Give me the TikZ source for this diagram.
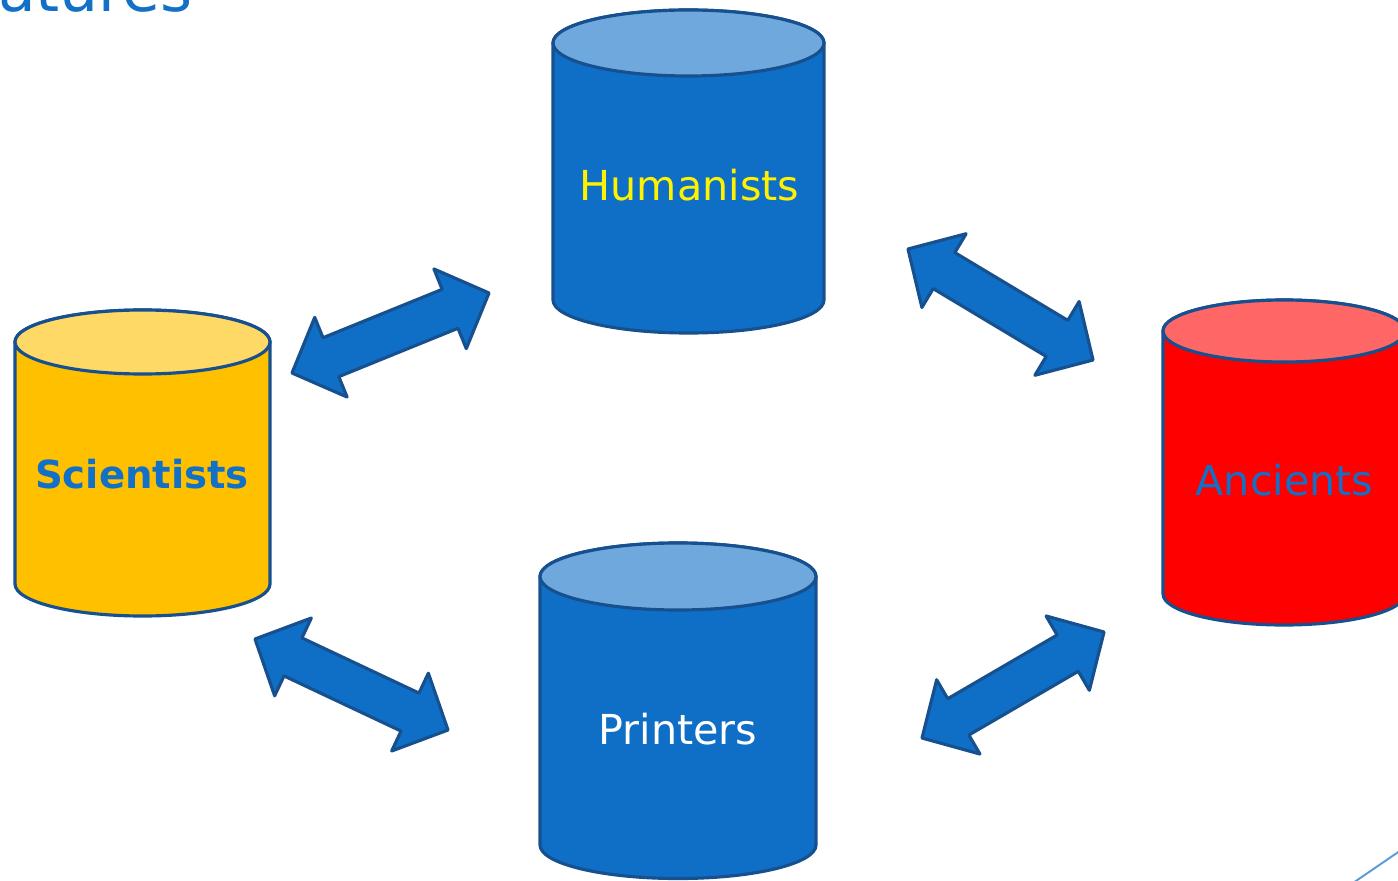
\documentclass[tikz,border=0pt]{standalone}
\usepackage{fontspec}
\setmainfont{DejaVu Sans}
\usepackage{xcolor}
\usepackage{tikz}
\usetikzlibrary{calc}
\usetikzlibrary{positioning}

\definecolor{drumblue}{HTML}{0F6FC6}
\definecolor{drumtop}{HTML}{6FA8DC}
\definecolor{edgeblue}{HTML}{17508F}
\definecolor{gold}{HTML}{FFC000}
\definecolor{goldtop}{HTML}{FFD966}
\definecolor{redtop}{HTML}{FF6666}
\definecolor{textblue}{HTML}{1270C6}
\definecolor{lineblue}{HTML}{5B9BD5}

\newcommand{\drum}[7]{%
    \filldraw [drum, fill=#6] (#1-#4, #2) -- (#1-#4, #3)
    arc [start angle=180, end angle=360, x radius=#4, y radius=#5]
    -- (#1+#4, #2) arc [start angle=0, end angle=180, x radius=#4, y radius=#5];
    \filldraw [drum, fill=#7] (#1, #2) ellipse [x radius=#4, y radius=#5];
}

\newcommand{\linkarrow}[2]{%
    \coordinate (#1-#2-a) at ($(#1)!0.84cm!(#2)$);
    \coordinate (#1-#2-b) at ($(#2)!0.84cm!(#1)$);
    \filldraw [link] (#1)
    -- ($(#1-#2-a)!0.86cm!90:(#2)$) -- ($(#1-#2-a)!0.42cm!90:(#2)$)
    -- ($(#1-#2-b)!0.42cm!-90:(#1)$) -- ($(#1-#2-b)!0.86cm!-90:(#1)$)
    -- (#2)
    -- ($(#1-#2-b)!0.86cm!90:(#1)$) -- ($(#1-#2-b)!0.42cm!90:(#1)$)
    -- ($(#1-#2-a)!0.42cm!-90:(#2)$) -- ($(#1-#2-a)!0.86cm!-90:(#2)$)
    -- cycle;
}

\begin{document}
\begin{tikzpicture}[x=0.02cm, y=0.02cm,
    drum/.style={draw=edgeblue, line width=1.8pt, line join=round},
    link/.style={draw=edgeblue, fill=drumblue, line width=1.8pt, line join=round},
    tag/.style={anchor=base, inner sep=0pt, font=\fontsize{23.5pt}{28pt}\selectfont}]

    \useasboundingbox (0, 0) rectangle (1398, 880);
    \clip (0, 0) rectangle (1398, 880);

    \node [anchor=base east, inner sep=0pt, text=textblue,
    font=\fontsize{35pt}{40pt}\selectfont] (title) at (193, 868) {atures};

    \drum{688.5}{837}{580}{135.5}{33}{drumblue}{drumtop}
    \drum{142.5}{538}{296}{127.5}{32}{gold}{goldtop}
    \drum{678}{303.5}{35}{138}{33.5}{drumblue}{drumtop}
    \drum{1284}{549}{286}{121}{31}{red}{redtop}

    \node [tag, text=yellow] (humanists) at (689.5, 679) {Humanists};
    \node [tag, text=textblue, font=\fontsize{22pt}{26pt}\selectfont\bfseries]
    (scientists) at (142, 392) {Scientists};
    \node [tag, text=white] (printers) at (678, 136) {Printers};
    \node [tag, text=textblue] (ancients) at (1284.5, 385) {Ancients};

    \coordinate (sci-ne) at (292, 507);
    \coordinate (hum-sw) at (489, 587);
    \coordinate (hum-se) at (908, 631);
    \coordinate (anc-nw) at (1093, 520);
    \coordinate (sci-se) at (255, 241);
    \coordinate (prn-nw) at (448, 150);
    \coordinate (prn-ne) at (922, 142);
    \coordinate (anc-sw) at (1104, 248);

    \linkarrow{sci-ne}{hum-sw}
    \linkarrow{hum-se}{anc-nw}
    \linkarrow{sci-se}{prn-nw}
    \linkarrow{prn-ne}{anc-sw}

    \draw [lineblue, line width=1.1pt] (1350, -5) -- (1410, 36);

\end{tikzpicture}
\end{document}
